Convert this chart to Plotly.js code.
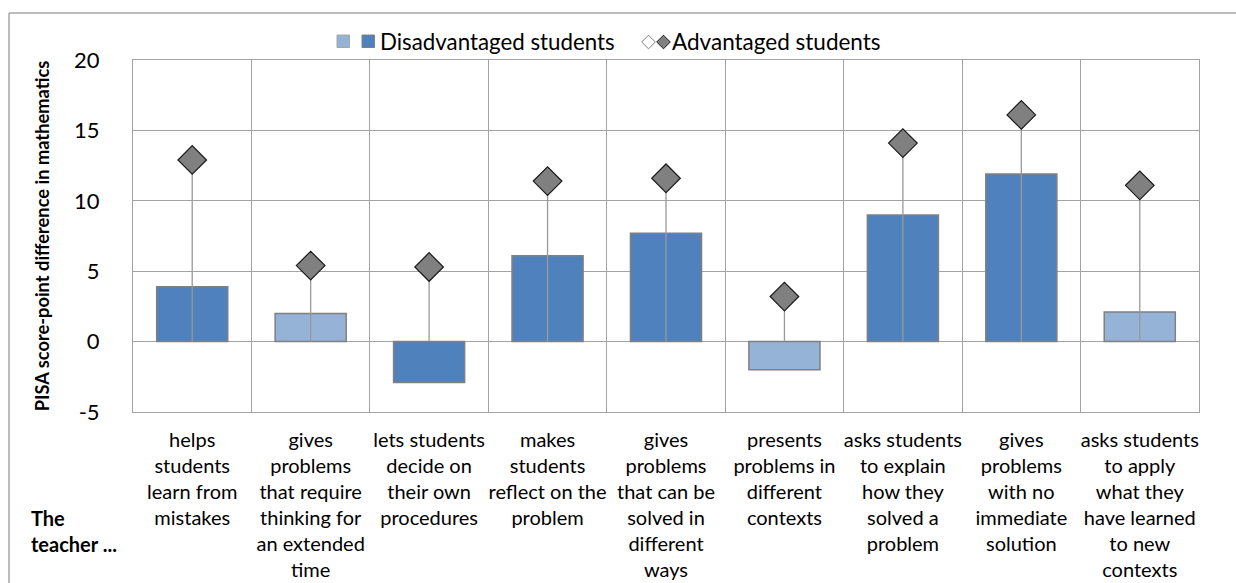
<!DOCTYPE html>
<html>
<head>
<meta charset="utf-8">
<script src="https://cdn.plot.ly/plotly-3.0.1.min.js"></script>
<style>
  html, body { margin: 0; padding: 0; background: #ffffff; }
  #chart { width: 1236px; height: 583px; }
</style>
</head>
<body>
<div id="chart"></div>
<script>
// ---- data ----
const categories = [
  "helps students learn from mistakes",
  "gives problems that require thinking for an extended time",
  "lets students decide on their own procedures",
  "makes students reflect on the problem",
  "gives problems that can be solved in different ways",
  "presents problems in different contexts",
  "asks students to explain how they solved a problem",
  "gives problems with no immediate solution",
  "asks students to apply what they have learned to new contexts"
];
const tickLabels = [
  "helps<br>students<br>learn from<br>mistakes",
  "gives<br>problems<br>that require<br>thinking for<br>an extended<br>time",
  "lets students<br>decide on<br>their own<br>procedures",
  "makes<br>students<br>reflect on the<br>problem",
  "gives<br>problems<br>that can be<br>solved in<br>different<br>ways",
  "presents<br>problems in<br>different<br>contexts",
  "asks students<br>to explain<br>how they<br>solved a<br>problem",
  "gives<br>problems<br>with no<br>immediate<br>solution",
  "asks students<br>to apply<br>what they<br>have learned<br>to new<br>contexts"
];
const disadvantaged = [3.9, 2.0, -2.9, 6.1, 7.7, -2.0, 9.0, 11.9, 2.1];
const disSignificant = [true, false, true, true, true, false, true, true, false];
const advantaged = [12.9, 5.4, 5.3, 11.4, 11.6, 3.2, 14.1, 16.1, 11.1];
const advSignificant = [true, true, true, true, true, true, true, true, true];
const yTicks = [-5, 0, 5, 10, 15, 20];

// ---- style ----
const DARK = "#4F81BD", LIGHT = "#95B3D7";
const GRID = "#A3A3A3";
const FONT = "Lato, 'Open Sans', sans-serif";

const barColors = disSignificant.map(s => s ? DARK : LIGHT);
const diamondColors = advSignificant.map(s => s ? "#808080" : "#FFFFFF");

const traces = [
  {
    type: "bar",
    x: categories,
    y: disadvantaged,
    width: 0.6,
    marker: { color: barColors, line: { color: "#808080", width: 1.5 } },
    showlegend: false,
    hoverinfo: "y"
  },
  {
    type: "scatter",
    mode: "markers",
    x: categories,
    y: advantaged,
    marker: { symbol: "diamond", size: 22, color: diamondColors, line: { color: "#1A1A1A", width: 1.2 } },
    error_y: {
      type: "data",
      symmetric: false,
      array: advantaged.map(() => 0),
      arrayminus: advantaged,
      width: 0,
      thickness: 1.3,
      color: "#999999"
    },
    showlegend: false,
    hoverinfo: "y",
    cliponaxis: false
  }
];

// pixel -> paper helpers for the hand-built legend and frame
const PL = 133, PR = 1199, PT = 60, PB = 412;
const px = v => (v - PL) / (PR - PL);
const py = v => (PB - v) / (PB - PT);

function sq(x0, y0, s, fill, line) {
  return { type: "rect", xref: "paper", yref: "paper",
    x0: px(x0), x1: px(x0 + s), y0: py(y0 + s), y1: py(y0),
    fillcolor: fill, line: { color: line, width: 1 }, layer: "above" };
}
function dia(cx, cy, r, fill, line) {
  const p = `M ${px(cx - r)} ${py(cy)} L ${px(cx)} ${py(cy - r)} L ${px(cx + r)} ${py(cy)} L ${px(cx)} ${py(cy + r)} Z`;
  return { type: "path", xref: "paper", yref: "paper", path: p,
    fillcolor: fill, line: { color: line, width: 1 }, layer: "above" };
}

const shapes = [
  // outer frame
  { type: "line", xref: "paper", yref: "paper", x0: px(9), x1: px(1240), y0: py(13), y1: py(13), line: { color: "#A6A6A6", width: 1.5 } },
  { type: "line", xref: "paper", yref: "paper", x0: px(9), x1: px(9), y0: py(13), y1: py(590), line: { color: "#A6A6A6", width: 1.5 } },
  // legend swatches
  sq(337, 35, 12.5, LIGHT, "#A6A6A6"),
  sq(362, 35, 12.5, DARK, "#808080"),
  dia(648.5, 42, 6.8, "#FFFFFF", "#7F7F7F"),
  dia(663.5, 42, 6.8, "#808080", "#1A1A1A")
];

const annotations = [
  { xref: "paper", yref: "paper", x: px(378), y: py(41), xanchor: "left", yanchor: "middle",
    text: "Disadvantaged students", showarrow: false, font: { family: FONT, size: 22.3, color: "#000000" } },
  { xref: "paper", yref: "paper", x: px(670), y: py(41), xanchor: "left", yanchor: "middle",
    text: "Advantaged students", showarrow: false, font: { family: FONT, size: 22.5, color: "#000000" } },
  { xref: "paper", yref: "paper", x: px(29), y: py(531), xanchor: "left", yanchor: "middle", align: "left",
    text: "<b>The<br>teacher ...</b>", showarrow: false, font: { family: FONT, size: 20, color: "#000000" } }
];

const layout = {
  width: 1236,
  height: 583,
  margin: { l: PL, r: 1236 - PR, t: PT, b: 583 - PB, pad: 0 },
  paper_bgcolor: "#FFFFFF",
  plot_bgcolor: "#FFFFFF",
  font: { family: FONT, color: "#000000" },
  showlegend: false,
  bargap: 0.4,
  xaxis: {
    type: "category",
    tickvals: categories,
    ticktext: tickLabels,
    tickson: "boundaries",
    showgrid: true,
    gridcolor: GRID,
    gridwidth: 1,
    ticks: "",
    showline: true,
    linecolor: GRID,
    linewidth: 1,
    mirror: true,
    tickangle: 0,
    ticklabelstandoff: 10,
    tickfont: { family: FONT, size: 20, color: "#000000" },
    range: [-0.5, 8.5],
    fixedrange: true
  },
  yaxis: {
    range: [-5, 20],
    tickvals: yTicks,
    ticktext: yTicks.map(String),
    showgrid: true,
    gridcolor: GRID,
    gridwidth: 1,
    zeroline: true,
    zerolinecolor: GRID,
    zerolinewidth: 1,
    showline: true,
    linecolor: GRID,
    linewidth: 1,
    mirror: true,
    ticks: "",
    ticklabelstandoff: 28,
    tickfont: { family: FONT, size: 22, color: "#000000" },
    title: {
      text: "<b>PISA score-point difference in mathematics</b>",
      font: { family: FONT, size: 18.3, color: "#000000" },
      standoff: 19
    },
    fixedrange: true
  },
  shapes: shapes,
  annotations: annotations
};

Plotly.newPlot("chart", traces, layout, { displayModeBar: false, staticPlot: true });
</script>
</body>
</html>
